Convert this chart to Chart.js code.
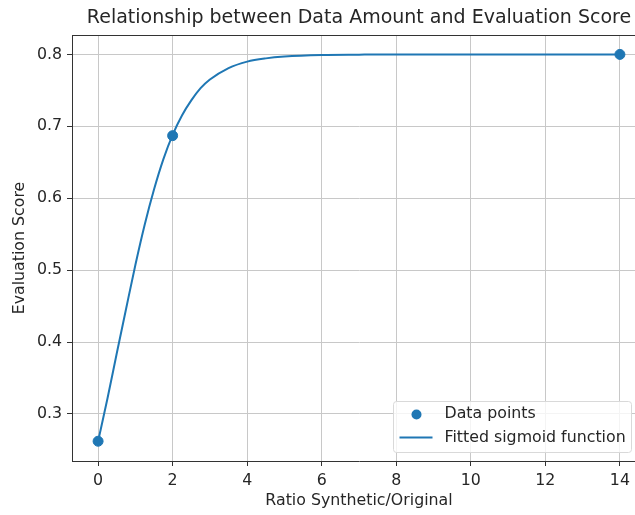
<!DOCTYPE html>
<html>
<head>
<meta charset="utf-8">
<script src="https://cdn.jsdelivr.net/npm/chart.js@4.4.0/dist/chart.umd.min.js"></script>
<style>
html, body { margin: 0; padding: 0; background: #fff; overflow: hidden; }
#marco { width: 635px; height: 515px; overflow: hidden; position: relative; }
#caja { position: absolute; left: 0; top: 0; width: 660px; height: 515px; }
</style>
</head>
<body>
<div id="marco"><div id="caja"><canvas id="myChart"></canvas></div></div>
<script>
// datos
const puntosX = [0, 2, 14];
const puntosY = [0.262, 0.687, 0.8];

const curvaX = [0, 0.25, 0.5, 0.75, 1, 1.25, 1.5, 1.75, 2, 2.25, 2.5, 2.75, 3, 3.5, 4, 4.5, 5, 6, 7, 8, 10, 12, 14];
const curvaY = [0.262, 0.321, 0.384, 0.446, 0.507, 0.563, 0.612, 0.654, 0.688, 0.715, 0.736, 0.753, 0.765, 0.781, 0.790, 0.7945, 0.797, 0.7992, 0.7997, 0.8, 0.8, 0.8, 0.8];

const ticksX = [0, 2, 4, 6, 8, 10, 12, 14];
const ticksY = [0.3, 0.4, 0.5, 0.6, 0.7, 0.8];

const titulo = 'Relationship between Data Amount and Evaluation Score';
const azul = '#1f77b4';
const fuente = 'DejaVu Sans';
const tam = 15.8;

const puntos = puntosX.map((x, i) => ({ x: x, y: puntosY[i] }));
const curva = curvaX.map((x, i) => ({ x: x, y: curvaY[i] }));

// titulo centrado sobre los ejes, marco superior y leyenda dentro del area
const extras = {
  id: 'extras',
  afterDraw(chart) {
    const ctx = chart.ctx;
    const a = chart.chartArea;
    ctx.save();
    ctx.fillStyle = '#262626';
    ctx.font = '19px "' + fuente + '"';
    ctx.textAlign = 'center';
    ctx.textBaseline = 'middle';
    ctx.fillText(titulo, (a.left + a.right) / 2, a.top - 17);

    ctx.strokeStyle = '#333';
    ctx.lineWidth = 1;
    ctx.beginPath();
    ctx.moveTo(a.left, Math.round(a.top) + 0.5);
    ctx.lineTo(a.right, Math.round(a.top) + 0.5);
    ctx.stroke();

    const w = 238, h = 51;
    const x0 = Math.round(a.right - 15 - w) + 0.5;
    const y0 = Math.round(a.bottom - 9 - h) + 0.5;
    ctx.fillStyle = 'rgba(255,255,255,0.8)';
    ctx.strokeStyle = '#d9d9d9';
    ctx.beginPath();
    ctx.roundRect(x0, y0, w, h, 3);
    ctx.fill();
    ctx.stroke();

    ctx.fillStyle = azul;
    ctx.beginPath();
    ctx.arc(x0 + 23, y0 + 13, 5, 0, Math.PI * 2);
    ctx.fill();

    ctx.strokeStyle = azul;
    ctx.lineWidth = 2;
    ctx.beginPath();
    ctx.moveTo(x0 + 6, y0 + 36);
    ctx.lineTo(x0 + 39, y0 + 36);
    ctx.stroke();

    ctx.fillStyle = '#262626';
    ctx.font = tam + 'px "' + fuente + '"';
    ctx.textAlign = 'left';
    ctx.fillText('Data points', x0 + 51, y0 + 12);
    ctx.fillText('Fitted sigmoid function', x0 + 51, y0 + 36);
    ctx.restore();
  }
};

const ctx = document.getElementById('myChart');
const myChart = new Chart(ctx, {
  type: 'scatter',
  data: {
    datasets: [
      {
        label: 'Data points',
        data: puntos,
        backgroundColor: azul,
        borderColor: azul,
        pointRadius: 5,
        pointHoverRadius: 5,
        showLine: false
      },
      {
        label: 'Fitted sigmoid function',
        data: curva,
        borderColor: azul,
        backgroundColor: azul,
        borderWidth: 2,
        pointRadius: 0,
        showLine: true,
        cubicInterpolationMode: 'monotone'
      }
    ]
  },
  options: {
    responsive: true,
    maintainAspectRatio: false,
    animation: false,
    layout: { padding: { left: 0, right: 14, top: 35, bottom: 0 } },
    plugins: {
      legend: { display: false },
      tooltip: { enabled: false },
      title: { display: false }
    },
    scales: {
      x: {
        type: 'linear',
        min: -0.7,
        max: 14.7,
        afterBuildTicks: (scale) => { scale.ticks = ticksX.map(v => ({ value: v })); },
        afterFit: (scale) => { scale.height = 54; },
        grid: { color: '#c8c8c8', lineWidth: 1, tickColor: '#333', tickLength: 5 },
        border: { display: true, color: '#333', width: 1 },
        ticks: { color: '#262626', font: { family: fuente, size: tam }, padding: 5, maxRotation: 0 },
        title: {
          display: true,
          text: 'Ratio Synthetic/Original',
          color: '#262626',
          font: { family: fuente, size: tam },
          padding: { top: 2, bottom: 5 }
        }
      },
      y: {
        type: 'linear',
        min: 0.2345,
        max: 0.827,
        afterBuildTicks: (scale) => { scale.ticks = ticksY.map(v => ({ value: v })); },
        afterFit: (scale) => { scale.width = 72; },
        grid: { color: '#c8c8c8', lineWidth: 1, tickColor: '#333', tickLength: 5 },
        border: { display: true, color: '#333', width: 1 },
        ticks: {
          color: '#262626',
          font: { family: fuente, size: tam },
          padding: 5,
          callback: (v) => v.toFixed(1)
        },
        title: {
          display: true,
          text: 'Evaluation Score',
          color: '#262626',
          font: { family: fuente, size: tam },
          padding: { top: 10, bottom: 2 }
        }
      }
    }
  },
  plugins: [extras]
});
</script>
</body>
</html>
